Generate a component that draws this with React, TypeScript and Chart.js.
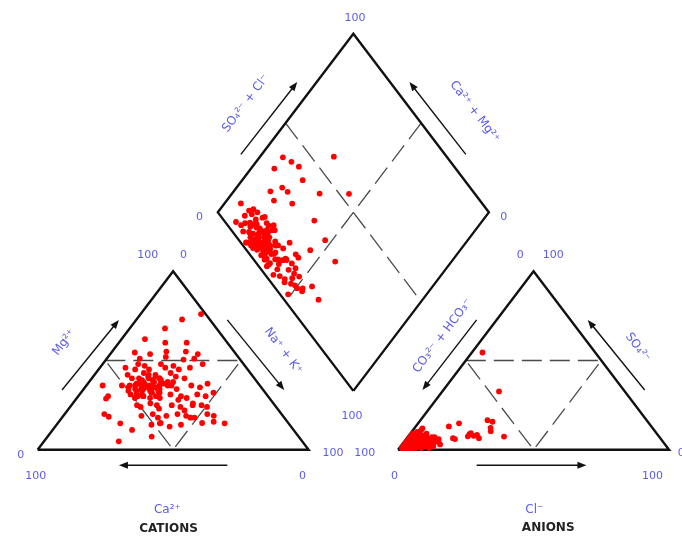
import React, { useEffect, useRef } from "react";
import { Chart, registerables } from "chart.js";

Chart.register(...registerables);

// ---- geometry constants (Piper diagram, side = 100) ----
const GAP = 33;
const S60 = Math.sqrt(3) / 2;

// ---- sample data (meq %) ; Ca = 100 - Mg - NaK, HCO3 = 100 - Cl - SO4 ----
const mgPct = [
  62, 68, 60, 54.5, 55, 76, 53.6, 22, 73, 55, 45, 40, 60, 36, 30, 20, 28, 18, 25, 15.7, 14.8,
  51, 52, 50.5, 51,
  46, 48, 47, 45, 48, 46, 47, 45, 46, 48,
  42, 40, 43, 41, 42, 40, 43, 41, 40,
  36, 35, 37, 34, 36, 35, 37, 36, 34, 36, 35, 37,
  31, 29, 30, 32, 30, 29, 31, 30, 29, 31, 30, 32,
  25, 24, 26, 25, 23, 25, 24, 26, 25, 24,
  19, 20, 18, 19, 20, 19, 18, 20, 19,
  14, 15, 13, 14, 15,
  18.5, 14.8, 11.1, 4.7, 7.4, 14.8, 28.7,
  53.6,
  38, 33, 36, 32, 39, 34, 30, 37, 35, 33, 40, 31, 38, 34, 36,
  35, 37, 33, 39, 36, 34, 38, 32, 40, 35, 31, 37, 36, 33, 39, 34, 30, 42, 36, 38, 29, 35, 41, 33, 37,
];
const nakPct = [
  8.6, 13.0, 17.1, 8.6, 27.2, 22.3, 32.3, 43.2, 16.8, 20.0, 13.5, 17.4, 25.0, 6.0, 11.0, 14.6, 37.9, 47.4, 44.7, 57.1, 61.6,
  12.2, 21.3, 28.6, 32.3,
  9.4, 13.1, 16.0, 18.6, 21.5, 24.1, 26.6, 29.6, 33.2, 36.9,
  12.2, 14.8, 17.7, 20.3, 22.5, 25.0, 27.6, 30.5, 34.2,
  13.1, 16.0, 18.6, 21.2, 23.3, 25.9, 28.5, 31.4, 34.3, 38.7, 42.4, 44.2,
  18.8, 21.4, 24.0, 26.2, 28.7, 30.6, 33.5, 37.9, 40.5, 43.4, 47.0, 48.9,
  24.2, 26.0, 28.6, 31.5, 33.3, 37.0, 40.7, 44.3, 48.0, 50.5,
  28.8, 32.5, 35.4, 38.0, 41.6, 45.3, 48.9, 52.6, 55.5,
  35.0, 37.9, 42.2, 45.9, 53.2,
  17, 23.1, 29.3, 27.6, 38.4, 37.7, 10.9,
  14.7,
  20, 22, 24, 26, 23, 19, 24, 27, 21, 28, 25, 21, 29, 25, 18,
  23, 21, 25, 19, 27, 22, 24, 29, 21, 26, 23, 18, 30, 20, 26, 28, 22, 20, 16, 31, 27, 25, 23, 17, 19,
];
const clPct = [
  29.0, 24.7, 27.0, 26.6, 3.9, 28.0, 35.4, 20.9, 22.0, 22.2, 12.2, 18.0, 15.1, 6.0, 8.0, 10.0, 25.0, 24.0, 17.0, 22.0, 9.0,
  2, 4, 1, 6, 3, 8, 2, 5, 1, 10,
  3, 7, 2, 4, 12, 1, 6, 3, 9, 2,
  5, 1, 7, 4, 3, 11, 2, 6, 1, 8,
  3, 5, 2, 13, 4, 1, 7, 3, 9, 2,
  6, 1, 4, 10, 3, 5, 2, 14, 4, 1,
  8, 3, 6, 2, 5, 11, 1, 4, 7, 3,
  2, 9, 5, 1, 6, 3, 12, 4, 2, 8,
  5, 1, 3, 7, 2, 10, 4, 6, 1, 3,
  5, 2, 9, 4, 1, 7, 3, 6, 2, 11,
  4, 1, 5, 3,
  2, 5, 1, 3, 7, 2, 4, 1, 6, 3, 9, 2, 5, 1, 4, 8, 3, 2, 6, 1, 4, 3, 10, 2, 5,
];
const so4Pct = [
  10.4, 16.6, 15.7, 6.5, 54.5, 12.3, 7.4, 32.7, 8.7, 9.3, 13.1, 6.0, 14.8, 5.0, 4.0, 4.6, 8.3, 7.8, 6.5, 7.5, 3.7,
  3, 2, 5, 3, 1, 4, 7, 5, 2, 3,
  4, 2, 1, 6, 2, 8, 5, 2, 6, 4,
  1, 3, 7, 3, 9, 5, 2, 1, 6, 2,
  5, 3, 10, 4, 1, 1, 4, 7, 2, 5,
  6, 4, 8, 7, 3, 2, 6, 3, 4, 9,
  5, 1, 2, 3, 8, 1, 7, 5, 3, 6,
  1, 4, 6, 2, 4, 11, 6, 2, 8, 1,
  4, 5, 2, 6, 4, 2, 7, 3, 3, 8,
  2, 5, 7, 3, 1, 5, 4, 9, 2, 4,
  6, 4, 3, 12,
  1, 3, 4, 2, 2, 6, 1, 5, 3, 7, 2, 4, 3, 2, 8, 1, 5, 3, 2, 4, 6, 1, 3, 9, 2,
];

// ---- text ----
const scaleTicks = ["0", "100"];
const cationLabels = ["Mg²⁺", "Na⁺ + K⁺", "Ca²⁺"];
const anionLabels = ["CO₃²⁻ + HCO₃⁻", "SO₄²⁻", "Cl⁻"];
const diamondLabels = ["SO₄²⁻ + Cl⁻", "Ca²⁺ + Mg²⁺"];
const groupTitles = ["CATIONS", "ANIONS"];

const BLUE = "#5c5ce6";

// Piper projections
const R0 = 100 + GAP;
const cationPts = mgPct.map((mg, i) => ({ x: nakPct[i] + mg / 2, y: mg * S60 }));
const anionPts = clPct.map((cl, i) => ({ x: R0 + cl + so4Pct[i] / 2, y: so4Pct[i] * S60 }));
const diamondPts = nakPct.map((nak, i) => {
  const cs = clPct[i] + so4Pct[i];
  return { x: (nak + R0 + cs) / 2, y: (R0 + cs - nak) * S60 };
});

const H = 100 * S60;
const dB = { x: 100 + GAP / 2, y: GAP * S60 };
const dL = { x: dB.x - 50, y: dB.y + H };
const dR = { x: dB.x + 50, y: dB.y + H };
const dT = { x: dB.x, y: dB.y + 2 * H };
const mid = (a: any, b: any) => ({ x: (a.x + b.x) / 2, y: (a.y + b.y) / 2 });

const tri = (x0: number) => [
  { x: x0, y: 0 }, { x: x0 + 100, y: 0 }, { x: x0 + 50, y: H }, { x: x0, y: 0 },
];
const innerTri = (x0: number) => [
  { x: x0 + 25, y: H / 2 }, { x: x0 + 75, y: H / 2 }, { x: x0 + 50, y: 0 }, { x: x0 + 25, y: H / 2 },
];

const decorPlugin = {
  id: "piperDecor",
  afterDraw(chart: any) {
    const { ctx } = chart;
    const xs = chart.scales.x;
    const ys = chart.scales.y;
    const P = (u: number, v: number) => [xs.getPixelForValue(u), ys.getPixelForValue(v)];
    const [ex0, ey0] = P(0, 0);
    const [ex1, ey1] = P(50, H);
    const ang = Math.atan2(ey1 - ey0, ex1 - ex0); // up-right edge angle (negative)

    ctx.save();
    ctx.strokeStyle = "#111";
    ctx.fillStyle = "#111";
    ctx.lineWidth = 1.4;
    const arrows = [
      [9, 29, 30, 63], [70, 63, 91, 29], [70, -7.5, 30, -7.5],
      [162, 63, 142, 29], [224, 29, 203, 63], [162, -7.5, 202.5, -7.5],
      [75, 143.3, 95.8, 178.4], [158, 143.3, 137.2, 178.4],
    ];
    arrows.forEach(([a, b, c, d]) => {
      const [x1, y1] = P(a, b);
      const [x2, y2] = P(c, d);
      const t = Math.atan2(y2 - y1, x2 - x1);
      const L = 9, W = 3.5;
      ctx.beginPath();
      ctx.moveTo(x1, y1);
      ctx.lineTo(x2 - 4 * Math.cos(t), y2 - 4 * Math.sin(t));
      ctx.stroke();
      ctx.beginPath();
      ctx.moveTo(x2, y2);
      ctx.lineTo(x2 - L * Math.cos(t) + W * Math.sin(t), y2 - L * Math.sin(t) - W * Math.cos(t));
      ctx.lineTo(x2 - L * Math.cos(t) - W * Math.sin(t), y2 - L * Math.sin(t) + W * Math.cos(t));
      ctx.closePath();
      ctx.fill();
    });

    const text = (s: string, u: number, v: number, rot = 0, font = "11px 'DejaVu Sans'", color = BLUE) => {
      const [px, py] = P(u, v);
      ctx.save();
      ctx.translate(px, py);
      ctx.rotate(rot);
      ctx.font = font;
      ctx.fillStyle = color;
      ctx.textAlign = "center";
      ctx.textBaseline = "middle";
      ctx.fillText(s, 0, 0);
      ctx.restore();
    };
    const [Z, C] = scaleTicks;
    text(C, 40.6, 94.4); text(Z, 53.8, 94.4);
    text(Z, -6.2, -2.4); text(C, -0.7, -12.6);
    text(Z, 97.7, -12.6); text(C, 109.0, -1.6);
    text(C, 120.7, -1.6); text(Z, 131.7, -12.6);
    text(Z, 178.1, 94.4); text(C, 190.3, 94.4);
    text(Z, 237.5, -1.6); text(C, 226.9, -12.6);
    text(C, 117.1, 209.6); text(Z, 59.75, 112.8); text(Z, 172, 112.8); text(C, 116, 16.2);

    const lf = "12px 'DejaVu Sans'";
    text(cationLabels[0], 9.8, 52.0, ang, lf);
    text(cationLabels[1], 90.6, 48.0, -ang, lf);
    text(cationLabels[2], 47.9, -29.4, 0, lf);
    text(anionLabels[0], 149.4, 55.2, ang, lf);
    text(anionLabels[1], 221.4, 49.6, -ang, lf);
    text(anionLabels[2], 183.3, -29.4, 0, lf);
    text(diamondLabels[0], 76.8, 168.0, ang, lf);
    text(diamondLabels[1], 161.2, 164.0, -ang, lf);
    text(groupTitles[0], 48.3, -38.5, 0, "bold 12px 'DejaVu Sans'", "#222");
    text(groupTitles[1], 188.4, -38.1, 0, "bold 12px 'DejaVu Sans'", "#222");
    ctx.restore();
  },
};

export default function App() {
  const ref = useRef<HTMLCanvasElement | null>(null);
  useEffect(() => {
    if (!ref.current) return;
    const outline = (data: any[]) => ({
      data, showLine: true, borderColor: "#111", borderWidth: 2.4, pointRadius: 0,
      fill: false, tension: 0, borderJoinStyle: "miter", order: 2,
    });
    const dashed = (data: any[]) => ({
      data, showLine: true, borderColor: "#4a4a4a", borderWidth: 1.3, borderDash: [20, 8],
      pointRadius: 0, fill: false, tension: 0, order: 3,
    });
    const pts = (data: any[]) => ({
      data, showLine: false, pointRadius: 2.9, pointBackgroundColor: "#ff0000",
      pointBorderWidth: 0, pointHoverRadius: 2.9, order: 0,
    });
    const chart = new Chart(ref.current, {
      type: "scatter",
      data: {
        datasets: [
          pts(cationPts), pts(anionPts), pts(diamondPts),
          outline(tri(0)), outline(tri(R0)),
          outline([dB, dR, dT, dL, dB]),
          dashed(innerTri(0)), dashed(innerTri(R0)),
          dashed([mid(dL, dT), mid(dB, dR)]),
          dashed([mid(dR, dT), mid(dB, dL)]),
        ] as any,
      },
      options: {
        animation: false,
        responsive: false,
        events: [],
        layout: { padding: 0 },
        plugins: { legend: { display: false }, tooltip: { enabled: false } },
        scales: {
          x: { type: "linear", min: -12.81, max: 236.7, display: false },
          y: { type: "linear", min: -44.8, max: 216.8, display: false },
        },
      },
      plugins: [decorPlugin],
    });
    return () => chart.destroy();
  }, []);
  return (
    <div style={{ position: "absolute", left: 0, top: 0, width: 682, height: 545, background: "#fff" }}>
      <canvas ref={ref} width={682} height={545} style={{ display: "block" }} />
    </div>
  );
}
